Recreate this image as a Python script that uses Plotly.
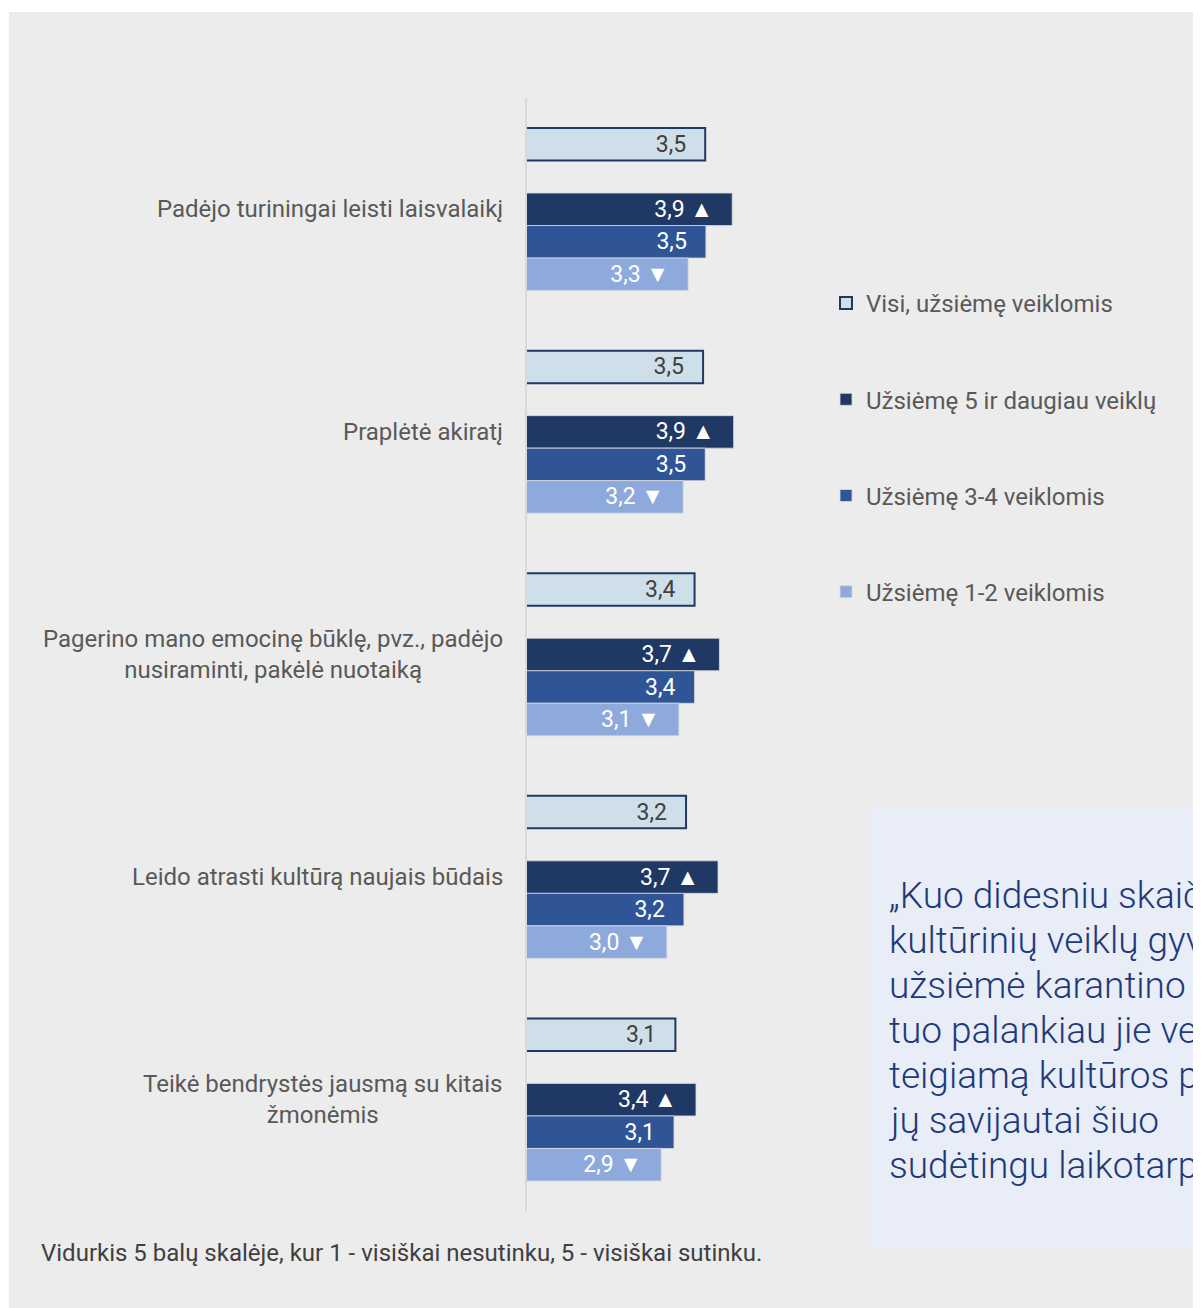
import plotly.graph_objects as go

categories = [
    "Padėjo turiningai leisti laisvalaikį",
    "Praplėtė akiratį",
    "Pagerino mano emocinę būklę, pvz., padėjo<br>nusiraminti, pakėlė nuotaiką",
    "Leido atrasti kultūrą naujais būdais",
    "Teikė bendrystės jausmą su kitais<br>žmonėmis",
]
series_names = [
    "Visi, užsiėmę veiklomis",
    "Užsiėmę 5 ir daugiau veiklų",
    "Užsiėmę 3-4 veiklomis",
    "Užsiėmę 1-2 veiklomis",
]
visi = [3.51, 3.48, 3.36, 3.24, 3.09]
daug5 = [3.89, 3.91, 3.71, 3.69, 3.38]
v34 = [3.52, 3.51, 3.36, 3.21, 3.07]
v12 = [3.27, 3.20, 3.14, 2.97, 2.89]
markers = ["", " ▲", "", " ▼"]
footnote = "Vidurkis 5 balų skalėje, kur 1 - visiškai nesutinku, 5 - visiškai sutinku."
quote_lines = [
    "„Kuo didesniu skaičiumi",
    "kultūrinių veiklų gyventojai",
    "užsiėmė karantino metu,",
    "tuo palankiau jie vertino",
    "teigiamą kultūros poveikį",
    "jų savijautai šiuo",
    "sudėtingu laikotarpiu.“",
]

W, H, OFF = 1201, 1300, 8
ml, mt = 519, 90
pw, ph = 284, 1113
mr = W - ml - pw
mb = H - mt - ph


def PX(x):
    return (x - OFF - ml) / pw


def PY(y):
    return 1 - (y - OFF - mt) / ph


def fmt(v, suffix):
    return f"{v:.1f}".replace(".", ",") + suffix + "\u00a0\u00a0\u2009"


FONT = "Roboto"
BG = "#ececec"
fig = go.Figure()

fill_colors = ["#cfdfe9", "#1f3864", "#2f5597", "#8eaadc"]
line_colors = ["#1f3864", "#d9d9d9", "#d9d9d9", "#d9d9d9"]
line_widths = [2, 0.8, 0.8, 0.8]
text_colors = ["#404040", "white", "white", "white"]
all_vals = [visi, daug5, v34, v12]

for i in range(4):
    if i == 1:
        fig.add_trace(go.Bar(y=categories, x=[None] * len(categories), orientation="h",
                             showlegend=False, hoverinfo="skip", name="blank"))
    fig.add_trace(go.Bar(
        y=categories, x=all_vals[i], orientation="h", name=series_names[i],
        legendgroup=f"g{i}",
        marker=dict(color=fill_colors[i], line=dict(color=line_colors[i], width=line_widths[i])),
        text=[fmt(v, markers[i]) for v in all_vals[i]],
        textposition="inside", insidetextanchor="end",
        textfont=dict(family=FONT, size=23, color=text_colors[i]),
        constraintext="none",
    ))

fig.update_layout(
    width=W, height=H,
    margin=dict(l=ml, r=mr, t=mt, b=mb),
    paper_bgcolor=BG, plot_bgcolor="rgba(0,0,0,0)",
    barmode="group", bargap=0.27, bargroupgap=0,
    font=dict(family=FONT, size=24, color="#595959"),
    xaxis=dict(range=[1, 5], visible=False, fixedrange=True),
    yaxis=dict(autorange="reversed", showticklabels=False, showgrid=False, zeroline=False,
               showline=True, linecolor="#d9d9d9", linewidth=2, ticks=""),
    legend=dict(x=PX(826), y=PY(281), xanchor="left", yanchor="top",
                bgcolor="rgba(0,0,0,0)", font=dict(family=FONT, size=24, color="#595959"),
                traceorder="grouped", tracegroupgap=62),
    shapes=[
        dict(type="rect", xref="paper", yref="paper", x0=PX(0), x1=PX(1230), y0=PY(0), y1=PY(12),
             fillcolor="white", line=dict(width=0), layer="below"),
        dict(type="rect", xref="paper", yref="paper", x0=PX(0), x1=PX(9), y0=PY(0), y1=PY(1320),
             fillcolor="white", line=dict(width=0), layer="below"),
        dict(type="rect", xref="paper", yref="paper", x0=PX(869), x1=PX(1230), y0=PY(808), y1=PY(1250),
             fillcolor="#e8edf7", line=dict(width=0), layer="below"),
    ],
)

for c in categories:
    fig.add_annotation(x=0, xref="paper", y=c, yref="y", text=c, showarrow=False,
                       xanchor="right", yanchor="middle", align="center", xshift=-22,
                       font=dict(family=FONT, size=24, color="#595959"))

fig.add_annotation(x=PX(39), xref="paper", y=PY(1253), yref="paper", text=footnote,
                   showarrow=False, xanchor="left", yanchor="middle",
                   font=dict(family=FONT, size=24, color="#404040"))

for k, line in enumerate(quote_lines):
    fig.add_annotation(x=PX(887), xref="paper", y=PY(895 + 45 * k), yref="paper", text=line,
                       showarrow=False, xanchor="left", yanchor="middle", align="left",
                       font=dict(family=FONT, size=37, color="#1f3a78", weight=300))

fig.write_html("out.html")
